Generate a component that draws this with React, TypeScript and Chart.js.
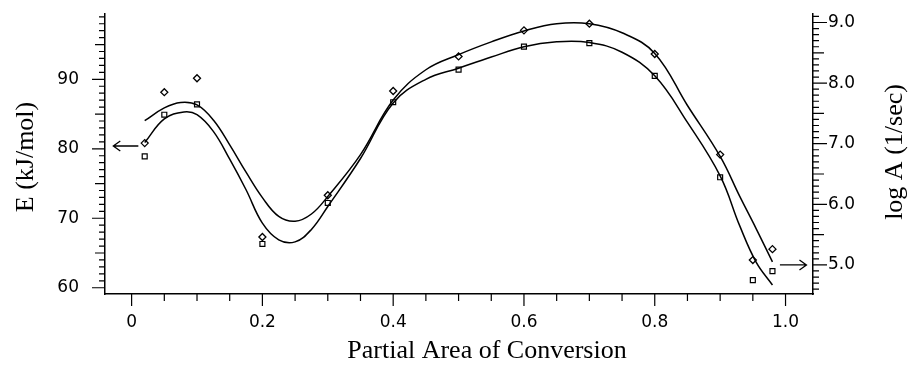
import React, { useEffect, useRef } from 'react';
import { Chart, registerables } from 'chart.js';

Chart.register(...registerables);

// ---- measured points ----
const markerX = [0.02, 0.05, 0.1, 0.2, 0.3, 0.4, 0.5, 0.6, 0.7, 0.8, 0.9, 0.95, 0.98];
const eMeasured = [78.9, 84.9, 86.4, 66.3, 72.2, 86.7, 91.4, 94.7, 95.2, 90.5, 75.9, 61.1, 62.4];
const logAMeasured = [7.01, 7.85, 8.08, 5.46, 6.15, 7.87, 8.44, 8.87, 8.98, 8.48, 6.82, 5.08, 5.26];

// ---- fitted curves ----
const eFitX = [0.02, 0.05, 0.08, 0.1, 0.125, 0.15, 0.175, 0.2, 0.225, 0.25, 0.275, 0.3, 0.35, 0.4, 0.45, 0.5, 0.55, 0.6, 0.65, 0.7, 0.75, 0.8, 0.85, 0.9, 0.93, 0.955, 0.98];
const eFit = [80.9, 84.3, 85.3, 84.9, 82.5, 78.5, 74.1, 69.3, 66.9, 66.6, 68.4, 71.7, 78.6, 86.6, 90.0, 91.6, 93.2, 94.7, 95.4, 95.3, 93.9, 90.5, 83.8, 76.1, 68.9, 63.7, 60.4];
const aFitX = [0.02, 0.05, 0.075, 0.1, 0.125, 0.15, 0.175, 0.2, 0.225, 0.25, 0.275, 0.3, 0.35, 0.4, 0.45, 0.5, 0.55, 0.6, 0.65, 0.7, 0.75, 0.8, 0.85, 0.9, 0.93, 0.955, 0.98];
const aFit = [7.38, 7.59, 7.68, 7.64, 7.39, 6.98, 6.53, 6.11, 5.8, 5.72, 5.84, 6.13, 6.82, 7.72, 8.22, 8.47, 8.68, 8.86, 8.98, 8.98, 8.83, 8.49, 7.63, 6.79, 6.13, 5.6, 5.05];

// ---- tick labels ----
const xTickValues = [0, 0.2, 0.4, 0.6, 0.8, 1.0];
const eTickValues = [60, 70, 80, 90];
const aTickValues = [5, 6, 7, 8, 9];

// ---- arrow annotations (data units) ----
const eArrowX = [0.0103, -0.028];
const eArrowY = 80.4;
const aArrowX = [0.9914, 1.032];
const aArrowY = 5.0;

const X_MIN = -0.0407;
const X_MAX = 1.042;
const E_MIN = 59.1;
const E_MAX = 99.4;
const A_MIN = 4.52;
const A_MAX = 9.14;

const TICK_FONT = { family: "'DejaVu Sans', sans-serif", size: 17 };
const TITLE_FONT = "26px 'Liberation Serif', 'Times New Roman', serif";

const decorPlugin = {
  id: 'decor',
  afterDraw(chart: any) {
    const ctx = chart.ctx as CanvasRenderingContext2D;
    const area = chart.chartArea;
    const xs = chart.scales.x;
    const ys = chart.scales.y;
    const as = chart.scales.y2;
    ctx.save();
    ctx.strokeStyle = '#000';
    ctx.fillStyle = '#000';
    ctx.lineWidth = 1.2;

    ctx.beginPath();
    for (let v = 60; v <= 99; v++) {
      const py = ys.getPixelForValue(v);
      const len = v % 10 === 0 ? 13 : v % 5 === 0 ? 10 : 6;
      ctx.moveTo(area.left, py);
      ctx.lineTo(area.left - len, py);
    }
    for (let i = 46; i <= 91; i++) {
      const py = as.getPixelForValue(i / 10);
      const len = i % 10 === 0 ? 14 : i % 5 === 0 ? 11 : 6;
      ctx.moveTo(area.right, py);
      ctx.lineTo(area.right + len, py);
    }
    for (let i = 0; i <= 20; i++) {
      const px = xs.getPixelForValue(i * 0.05);
      const len = i % 4 === 0 ? 12 : 7;
      ctx.moveTo(px, area.bottom);
      ctx.lineTo(px, area.bottom + len);
    }
    ctx.stroke();

    const drawArrow = (x1: number, y1: number, x2: number, y2: number) => {
      const dir = Math.sign(x2 - x1);
      ctx.beginPath();
      ctx.moveTo(x1, y1);
      ctx.lineTo(x2, y2);
      ctx.moveTo(x2 - dir * 7, y2 - 5);
      ctx.lineTo(x2, y2);
      ctx.lineTo(x2 - dir * 7, y2 + 5);
      ctx.stroke();
    };
    ctx.lineWidth = 1.3;
    const ey = ys.getPixelForValue(eArrowY);
    drawArrow(xs.getPixelForValue(eArrowX[0]), ey, xs.getPixelForValue(eArrowX[1]), ey);
    const ay = as.getPixelForValue(aArrowY);
    drawArrow(xs.getPixelForValue(aArrowX[0]), ay, xs.getPixelForValue(aArrowX[1]), ay);

    ctx.font = TITLE_FONT;
    ctx.textAlign = 'center';
    ctx.textBaseline = 'middle';
    ctx.save();
    ctx.translate(26, 157);
    ctx.rotate(-Math.PI / 2);
    ctx.fillText('E (kJ/mol)', 0, 0);
    ctx.restore();
    ctx.save();
    ctx.translate(895, 152);
    ctx.rotate(-Math.PI / 2);
    ctx.fillText('log A (1/sec)', 0, 0);
    ctx.restore();
    ctx.fillText('Partial Area of Conversion', 487, 351);
    ctx.restore();
  },
};

export default function App() {
  const ref = useRef<HTMLCanvasElement>(null);

  useEffect(() => {
    if (!ref.current) return;
    const chart = new Chart(ref.current, {
      type: 'line',
      data: {
        datasets: [
          {
            label: 'E fit',
            data: eFitX.map((x, i) => ({ x, y: eFit[i] })),
            yAxisID: 'y',
            borderColor: '#000',
            borderWidth: 1.5,
            pointRadius: 0,
            tension: 0.4,
            fill: false,
          },
          {
            label: 'log A fit',
            data: aFitX.map((x, i) => ({ x, y: aFit[i] })),
            yAxisID: 'y2',
            borderColor: '#000',
            borderWidth: 1.5,
            pointRadius: 0,
            tension: 0.4,
            fill: false,
          },
          {
            label: 'E',
            data: markerX.map((x, i) => ({ x, y: eMeasured[i] })),
            yAxisID: 'y',
            showLine: false,
            pointStyle: 'rect',
            pointRadius: 3.5,
            pointBorderWidth: 1.2,
            pointBorderColor: '#000',
            pointBackgroundColor: '#fff',
            borderColor: '#000',
          },
          {
            label: 'log A',
            data: markerX.map((x, i) => ({ x, y: logAMeasured[i] })),
            yAxisID: 'y2',
            showLine: false,
            pointStyle: 'rectRot',
            pointRadius: 3.5,
            pointBorderWidth: 1.3,
            pointBorderColor: '#000',
            pointBackgroundColor: '#fff',
            borderColor: '#000',
          },
        ],
      },
      options: {
        responsive: false,
        animation: false,
        devicePixelRatio: 1,
        layout: { autoPadding: false, padding: { top: 14, left: 0, right: 0, bottom: 0 } },
        plugins: {
          legend: { display: false },
          tooltip: { enabled: false },
          title: { display: false },
        },
        scales: {
          x: {
            type: 'linear',
            position: 'bottom',
            min: X_MIN,
            max: X_MAX,
            afterBuildTicks: (s: any) => {
              s.ticks = xTickValues.map((v) => ({ value: v }));
            },
            afterFit: (s: any) => {
              s.height = 77;
              s.paddingLeft = 0;
              s.paddingRight = 0;
            },
            ticks: {
              autoSkip: false,
              maxRotation: 0,
              padding: 18,
              color: '#000',
              font: TICK_FONT,
              callback: (v: any) => (Number(v) === 0 ? '0' : Number(v).toFixed(1)),
            },
            grid: { display: true, drawOnChartArea: false, drawTicks: false },
            border: { display: true, color: '#000', width: 1.5 },
          },
          y: {
            type: 'linear',
            position: 'left',
            min: E_MIN,
            max: E_MAX,
            afterBuildTicks: (s: any) => {
              s.ticks = eTickValues.map((v) => ({ value: v }));
            },
            afterFit: (s: any) => {
              s.width = 105;
              s.paddingTop = 0;
              s.paddingBottom = 0;
            },
            ticks: {
              autoSkip: false,
              padding: 26,
              color: '#000',
              font: TICK_FONT,
              callback: (v: any) => String(v),
            },
            grid: { display: true, drawOnChartArea: false, drawTicks: false },
            border: { display: true, color: '#000', width: 1.5 },
          },
          y2: {
            type: 'linear',
            position: 'right',
            min: A_MIN,
            max: A_MAX,
            afterBuildTicks: (s: any) => {
              s.ticks = aTickValues.map((v) => ({ value: v }));
            },
            afterFit: (s: any) => {
              s.width = 98;
              s.paddingTop = 0;
              s.paddingBottom = 0;
            },
            ticks: {
              autoSkip: false,
              padding: 15,
              color: '#000',
              font: TICK_FONT,
              callback: (v: any) => Number(v).toFixed(1),
            },
            grid: { display: true, drawOnChartArea: false, drawTicks: false },
            border: { display: true, color: '#000', width: 1.5 },
          },
        },
      } as any,
      plugins: [decorPlugin],
    });
    return () => chart.destroy();
  }, []);

  return (
    <div style={{ position: 'fixed', left: 0, top: 0, width: 911, height: 371, background: '#fff' }}>
      <canvas ref={ref} width={911} height={371} style={{ display: 'block', width: 911, height: 371 }} />
    </div>
  );
}
